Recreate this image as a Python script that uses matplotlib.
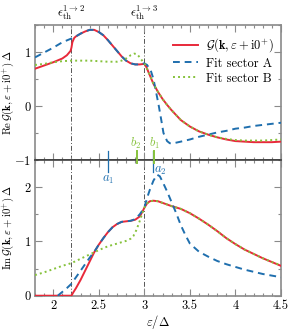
import matplotlib
matplotlib.use("Agg")
import matplotlib.pyplot as plt
from matplotlib.ticker import FixedLocator, FixedFormatter, MultipleLocator

plt.rcParams.update({
    "font.family": "serif",
    "font.serif": ["cmr10", "DejaVu Serif"],
    "mathtext.fontset": "cm",
    "axes.formatter.use_mathtext": True,
    "font.size": 9,
})

# ---------------- data ----------------
# Re G (exact)
re_red_x = [1.8, 1.9, 2.0, 2.1, 2.15, 2.19, 2.2, 2.21, 2.23, 2.25, 2.3, 2.35, 2.4, 2.45, 2.5,
            2.55, 2.6, 2.65, 2.7, 2.75, 2.8, 2.85, 2.9, 2.95, 3.0, 3.02, 3.05, 3.1, 3.15,
            3.2, 3.25, 3.3, 3.4, 3.5, 3.6, 3.7, 3.8, 3.9, 4.0, 4.1, 4.2, 4.3, 4.4, 4.5]
re_red_y = [0.69, 0.75, 0.81, 0.88, 0.94, 1.02, 1.08, 1.18, 1.26, 1.29, 1.34, 1.38, 1.41, 1.41, 1.37,
            1.31, 1.22, 1.12, 1.02, 0.92, 0.84, 0.79, 0.77, 0.77, 0.78, 0.73, 0.61, 0.41, 0.26,
            0.13, 0.02, -0.08, -0.26, -0.38, -0.47, -0.53, -0.58, -0.62, -0.65, -0.66, -0.67, -0.67, -0.67, -0.66]
# Re fit sector A
re_a_x = [1.8, 1.9, 2.0, 2.1, 2.2, 2.25, 2.3, 2.35, 2.4, 2.45, 2.5, 2.55, 2.6, 2.65, 2.7, 2.75,
          2.8, 2.85, 2.9, 2.95, 3.0, 3.03, 3.07, 3.1, 3.13, 3.16, 3.19, 3.21, 3.25, 3.28, 3.32,
          3.4, 3.5, 3.6, 3.7, 3.8, 3.9, 4.0, 4.1, 4.2, 4.3, 4.4, 4.5]
re_a_y = [0.90, 0.99, 1.08, 1.18, 1.25, 1.29, 1.34, 1.38, 1.41, 1.41, 1.37, 1.31, 1.22, 1.12, 1.02, 0.92,
          0.84, 0.79, 0.77, 0.77, 0.79, 0.76, 0.66, 0.50, 0.25, -0.01, -0.30, -0.50, -0.65, -0.69, -0.69,
          -0.66, -0.62, -0.57, -0.53, -0.49, -0.46, -0.42, -0.40, -0.37, -0.35, -0.33, -0.31]
# Re fit sector B
re_b_x = [1.8, 1.9, 2.0, 2.1, 2.2, 2.3, 2.4, 2.5, 2.6, 2.7, 2.75, 2.8, 2.85, 2.89, 2.92, 2.95,
          2.98, 3.0, 3.02, 3.05, 3.1, 3.15, 3.2, 3.25, 3.3, 3.4, 3.5, 3.6, 3.7, 3.8, 3.9, 4.0,
          4.1, 4.2, 4.3, 4.4, 4.5]
re_b_y = [0.76, 0.78, 0.81, 0.83, 0.84, 0.84, 0.84, 0.83, 0.82, 0.82, 0.84, 0.88, 0.94, 0.97, 0.96, 0.90,
          0.83, 0.79, 0.73, 0.61, 0.41, 0.26, 0.13, 0.02, -0.08, -0.26, -0.38, -0.47, -0.53, -0.58, -0.61, -0.63,
          -0.64, -0.64, -0.64, -0.63, -0.62]

# Im G (exact)
im_red_x = [1.8, 2.2, 2.22, 2.25, 2.3, 2.35, 2.4, 2.45, 2.5, 2.55, 2.6, 2.65, 2.7, 2.75, 2.8, 2.85,
            2.9, 2.95, 2.98, 3.0, 3.03, 3.06, 3.1, 3.15, 3.2, 3.3, 3.4, 3.5, 3.6, 3.7, 3.8, 3.9,
            4.0, 4.1, 4.2, 4.3, 4.4, 4.5]
im_red_y = [0.0, 0.0, 0.06, 0.14, 0.29, 0.46, 0.63, 0.80, 0.94, 1.06, 1.17, 1.26, 1.32, 1.36, 1.37, 1.38,
            1.40, 1.46, 1.55, 1.62, 1.70, 1.74, 1.75, 1.74, 1.71, 1.65, 1.60, 1.52, 1.42, 1.31, 1.19, 1.06,
            0.95, 0.85, 0.77, 0.69, 0.62, 0.55]
# Im fit sector A
im_a_x = [2.05, 2.1, 2.15, 2.2, 2.25, 2.3, 2.35, 2.4, 2.45, 2.5, 2.55, 2.6, 2.65, 2.7, 2.75, 2.8,
          2.85, 2.9, 2.95, 3.0, 3.03, 3.06, 3.1, 3.14, 3.17, 3.2, 3.25, 3.3, 3.35, 3.4, 3.45,
          3.5, 3.6, 3.7, 3.8, 3.9, 4.0, 4.1, 4.2, 4.3, 4.4, 4.5]
im_a_y = [0.0, 0.07, 0.14, 0.22, 0.34, 0.46, 0.58, 0.70, 0.81, 0.94, 1.06, 1.17, 1.26, 1.32, 1.36, 1.37,
          1.38, 1.41, 1.50, 1.62, 1.80, 1.95, 2.12, 2.23, 2.20, 2.10, 1.92, 1.72, 1.52, 1.30, 1.12,
          0.96, 0.81, 0.72, 0.64, 0.58, 0.53, 0.48, 0.44, 0.40, 0.37, 0.34]
# Im fit sector B
im_b_x = [1.8, 1.9, 2.0, 2.1, 2.2, 2.3, 2.4, 2.5, 2.6, 2.7, 2.8, 2.85, 2.88, 2.91, 2.94, 2.97,
          3.0, 3.03, 3.06, 3.1, 3.15, 3.2, 3.3, 3.4, 3.5, 3.6, 3.7, 3.8, 3.9, 4.0, 4.1, 4.2,
          4.3, 4.4, 4.5]
im_b_y = [0.38, 0.43, 0.49, 0.55, 0.60, 0.68, 0.76, 0.84, 0.91, 0.96, 1.01, 1.05, 1.10, 1.20, 1.33, 1.48,
          1.62, 1.70, 1.74, 1.75, 1.74, 1.71, 1.65, 1.60, 1.52, 1.42, 1.31, 1.19, 1.06, 0.95, 0.85, 0.77,
          0.69, 0.62, 0.56]

thresholds = [2.2, 3.0]
threshold_labels = [r"$\epsilon_{\rm th}^{1\to2}$", r"$\epsilon_{\rm th}^{1\to3}$"]
poles_a = [2.6, 3.1]
poles_a_labels = [r"$a_1$", r"$a_2$"]
poles_b = [3.11, 2.92]
poles_b_labels = [r"$b_1$", r"$b_2$"]

x_ticks = [2, 2.5, 3, 3.5, 4, 4.5]
x_ticklabels = ["2", "2.5", "3", "3.5", "4", "4.5"]
re_yticks = [-1, 0, 1]
re_yticklabels = [r"$-1$", "0", "1"]
im_yticks = [0, 1, 2]
im_yticklabels = ["0", "1", "2"]

# ---------------- style ----------------
RED = "#e8293a"
BLUE = "#1f6fae"
GREEN = "#86c23c"
SPINE = "#8a8a8a"

W, H = 294, 330
fig = plt.figure(figsize=(W / 100, H / 100), dpi=100)
left, right = 35 / W, 281 / W
top_y, mid_y, bot_y = 1 - 25 / H, 1 - 160 / H, 1 - 295.7 / H
ax1 = fig.add_axes([left, mid_y, right - left, top_y - mid_y])
ax2 = fig.add_axes([left, bot_y, right - left, mid_y - bot_y], sharex=ax1)

lw = 1.4
for ax in (ax1, ax2):
    for t in thresholds:
        ax.axvline(t, color="#555555", lw=0.7, ls=(0, (5, 2, 1, 2)), zorder=1)

ax1.plot(re_red_x, re_red_y, color=RED, lw=lw, zorder=3, label=r"$\mathcal{G}(\mathbf{k},\varepsilon+\mathrm{i}0^{+})$")
ax1.plot(re_a_x, re_a_y, color=BLUE, lw=lw, ls=(0, (3.5, 2.5)), zorder=4, label="Fit sector A")
ax1.plot(re_b_x, re_b_y, color=GREEN, lw=lw, ls=(0, (1, 1.6)), zorder=5, label="Fit sector B")

ax2.plot(im_red_x, im_red_y, color=RED, lw=lw, zorder=3)
ax2.plot(im_a_x, im_a_y, color=BLUE, lw=lw, ls=(0, (3.5, 2.5)), zorder=4)
ax2.plot(im_b_x, im_b_y, color=GREEN, lw=lw, ls=(0, (1, 1.6)), zorder=5)

ax1.set_xlim(1.8, 4.5)
ax1.set_ylim(-1, 1.5)
ax2.set_ylim(0, 2.5)

for ax in (ax1, ax2):
    ax.xaxis.set_major_locator(FixedLocator(x_ticks))
    ax.xaxis.set_minor_locator(MultipleLocator(0.1))
    ax.yaxis.set_minor_locator(MultipleLocator(0.5))
    ax.tick_params(which="both", direction="in", top=True, right=True, color=SPINE, width=0.8)
    ax.tick_params(which="major", length=5)
    ax.tick_params(which="minor", length=2.5)
    ax.tick_params(labelsize=9, pad=3)
    for s in ax.spines.values():
        s.set_color(SPINE)
        s.set_linewidth(1.2)

ax1.spines["bottom"].set_color("#404040")
ax2.spines["top"].set_color("#404040")
ax1.tick_params(labelbottom=False)
ax1.yaxis.set_major_locator(FixedLocator(re_yticks))
ax1.yaxis.set_major_formatter(FixedFormatter(re_yticklabels))
ax2.yaxis.set_major_locator(FixedLocator(im_yticks))
ax2.yaxis.set_major_formatter(FixedFormatter(im_yticklabels))
ax2.xaxis.set_major_formatter(FixedFormatter(x_ticklabels))

ax1.set_ylabel(r"$\mathrm{Re}\,\mathcal{G}(\mathbf{k},\varepsilon+\mathrm{i}0^{+})\,\Delta$", fontsize=7.8)
ax2.set_ylabel(r"$\mathrm{Im}\,\mathcal{G}(\mathbf{k},\varepsilon+\mathrm{i}0^{+})\,\Delta$", fontsize=7.8)
ax1.yaxis.set_label_coords(-0.075, 0.5)
ax2.yaxis.set_label_coords(-0.075, 0.5)
ax2.set_xlabel(r"$\varepsilon/\Delta$", fontsize=9, labelpad=1)

for t, lab in zip(thresholds, threshold_labels):
    ax1.text(t, 1.55, lab, ha="center", va="bottom", fontsize=9)

# pole markers across the boundary between panels
for p, lab, dx, dy in zip(poles_a, poles_a_labels, [0.0, 0.07], [2.13, 2.3]):
    ax2.plot([p, p], [2.5 + 0.17, 2.28], color=BLUE, lw=0.9, clip_on=False, zorder=6)
    ax2.text(p + dx, dy, lab, color=BLUE, ha="center", va="center", fontsize=9)
for p, lab, dx in zip(poles_b, poles_b_labels, [0.0, -0.02]):
    ax2.plot([p, p], [2.5 + 0.17, 2.44], color=GREEN, lw=1.4, clip_on=False, zorder=7)
    ax1.text(p + dx, -0.7, lab, color=GREEN, ha="center", va="center", fontsize=9)

leg = ax1.legend(loc="upper right", frameon=False, fontsize=9, handlelength=2.0,
                 handletextpad=0.6, labelspacing=0.25, borderaxespad=0.2,
                 bbox_to_anchor=(1.0, 0.97))

fig.savefig("out.png", dpi=100)
